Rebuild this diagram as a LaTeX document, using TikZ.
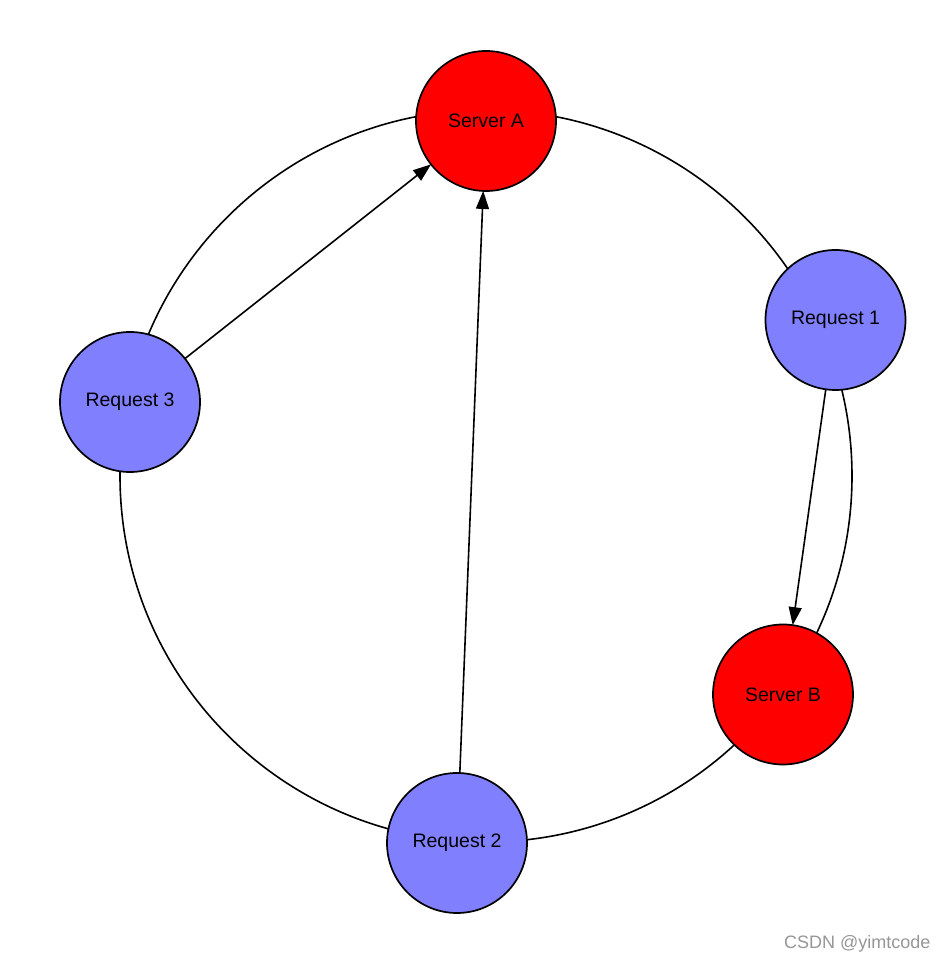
\documentclass[tikz,border=0pt]{standalone}
\usepackage{fontspec}
\setmainfont{Liberation Sans}
\usetikzlibrary{
    arrows.meta
}
\definecolor{serverred}{RGB}{255,0,0}
\definecolor{requestblue}{RGB}{128,128,255}
\definecolor{markgray}{RGB}{150,150,150}
\tikzset{%
    host/.style={%
        circle,
        draw,
        line width=1.7pt,
        inner sep = 0pt,
        outer sep = 0pt,
        minimum size=140pt,
        font=\fontsize{19.5}{22}\selectfont
    },
    server/.style={%
        host,
        fill=serverred,
    },
    request/.style={%
        host,
        fill=requestblue,
    },
    hash ring/.style={%
        circle,
        draw,
        line width=1.6pt,
        inner sep = 0pt,
        outer sep = 0pt,
        minimum size=732pt
    },
    arrow/.style={%
        line width=1.6pt,
        >={Triangle[length=18pt,width=13pt]},
    },
    watermark/.style={%
        text=markgray,
        font=\fontsize{18}{20}\selectfont
    },
}

\begin{document}
\begin{tikzpicture}[x=1pt, y=1pt]
    \useasboundingbox (0,0) rectangle (948,964);

    % the ring
    \node[hash ring] (ring) at (486,488) {};

    \node[server] (ServerA) at (486,843) {Server A};
    \node[server] (ServerB) at (783,269.5) {Server B};

    \node[request] (Req1) at (835.5,644) {Request 1};
    \node[request] (Req2) at (457,121) {Request 2};
    \node[request] (Req3) at (130,562) {Request 3};

    \draw[arrow, ->] (Req3) to (ServerA);
    \draw[arrow, ->] (Req2) to (ServerA);
    \draw[arrow, ->] (Req1) to (ServerB);

    \node[watermark, anchor=east] (mark) at (934,20) {CSDN @yimtcode};
\end{tikzpicture}
\end{document}
